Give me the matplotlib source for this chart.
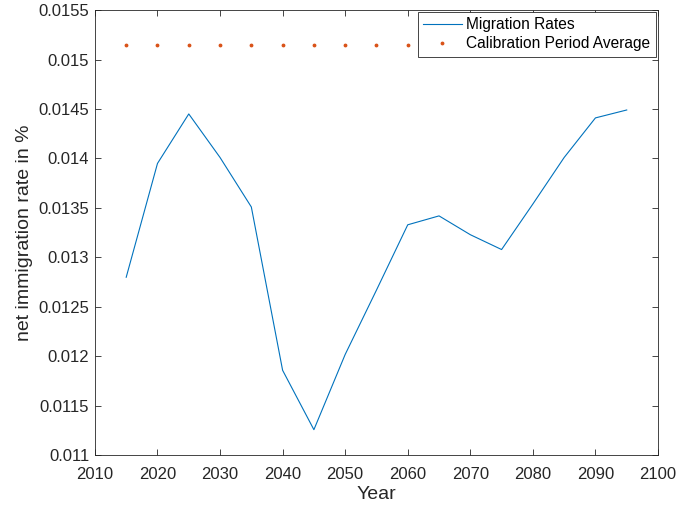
import numpy as np
import matplotlib.pyplot as plt

plt.rcParams['font.family'] = ['Liberation Sans', 'DejaVu Sans']

years = [2015, 2020, 2025, 2030, 2035, 2040, 2045, 2050, 2055,
         2060, 2065, 2070, 2075, 2080, 2085, 2090, 2095]
migration = [0.01280, 0.01395, 0.01445, 0.01401, 0.01351, 0.01186, 0.01126,
             0.01202, 0.01267, 0.01333, 0.01342, 0.01323, 0.01308, 0.01354,
             0.01401, 0.01441, 0.01449]
calib_avg = [0.01515] * len(years)

fig = plt.figure(figsize=(6.78, 5.14), dpi=100)
ax = fig.add_axes([0.140, 0.114, 0.8305, 0.8665])

ax.plot(years, migration, color='#0072BD', lw=0.8, label='Migration Rates')
ax.plot(years, calib_avg, ls='none', marker='.', ms=3.5, color='#D95319',
        label='Calibration Period Average')

ax.set_xlim(2010, 2100)
ax.set_ylim(0.011, 0.0155)
ax.set_xticks(np.arange(2010, 2101, 10))
ax.set_yticks(np.arange(0.011, 0.01551, 0.0005))
ax.set_yticklabels(['0.011', '0.0115', '0.012', '0.0125', '0.013',
                    '0.0135', '0.014', '0.0145', '0.015', '0.0155'])

edge = '#262626'
for s in ax.spines.values():
    s.set_color(edge)
    s.set_linewidth(0.6)
ax.tick_params(direction='in', top=True, right=True, length=4, width=0.6,
               colors=edge, labelsize=12)
ax.tick_params(axis='x', pad=8)
ax.tick_params(axis='y', pad=4)

ax.set_xlabel('Year', fontsize=14, color=edge, labelpad=3)
ax.set_ylabel('net immigration rate in %', fontsize=14, color=edge, labelpad=4)

leg = ax.legend(loc='upper right', fontsize=11.2, frameon=True, fancybox=False,
                borderaxespad=0.15, handlelength=2.5, borderpad=0.33,
                labelspacing=0.25, handletextpad=0.3)
leg.get_frame().set_edgecolor(edge)
leg.get_frame().set_linewidth(0.6)
leg.get_frame().set_alpha(1)

fig.savefig('out.png', dpi=100)
